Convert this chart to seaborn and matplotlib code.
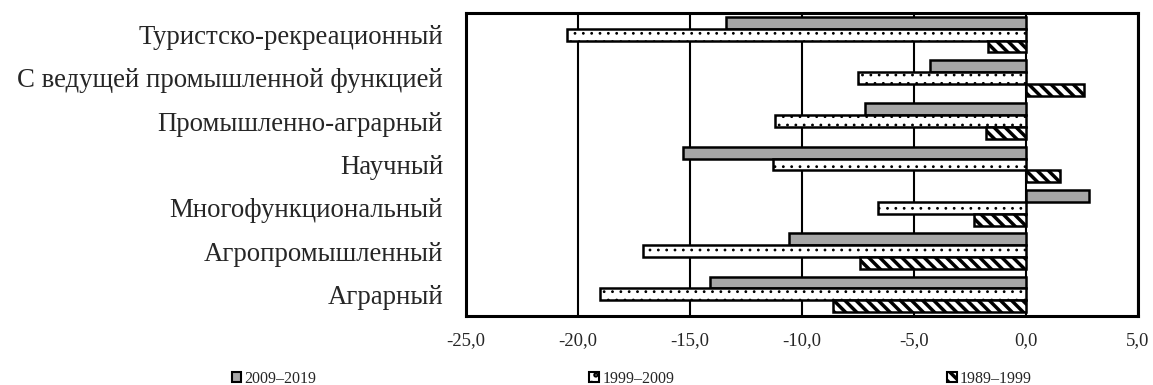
import matplotlib
matplotlib.use("Agg")
import matplotlib.pyplot as plt
import seaborn as sns
import pandas as pd
import numpy as np
from matplotlib.patches import Patch

categories = ["Туристско-рекреационный", "С ведущей промышленной функцией",
              "Промышленно-аграрный", "Научный", "Многофункциональный",
              "Агропромышленный", "Аграрный"]
periods = ["2009–2019", "1999–2009", "1989–1999"]
v_2009_2019 = [-13.4, -4.3, -7.2, -15.3, 2.8, -10.6, -14.1]
v_1999_2009 = [-20.5, -7.5, -11.2, -11.3, -6.6, -17.1, -19.0]
v_1989_1999 = [-1.7, 2.6, -1.8, 1.5, -2.3, -7.4, -8.6]
xticks = [-25, -20, -15, -10, -5, 0, 5]

df = pd.DataFrame({
    "cat": categories * 3,
    "period": [periods[0]] * 7 + [periods[1]] * 7 + [periods[2]] * 7,
    "value": v_2009_2019 + v_1999_2009 + v_1989_1999,
})

sns.set_theme(style="white")
plt.rcParams["font.family"] = ["Liberation Serif", "DejaVu Serif"]
plt.rcParams["hatch.linewidth"] = 2.5

fig = plt.figure(figsize=(11.53, 3.85), dpi=100)
ax = fig.add_axes([466 / 1153, 1 - 316 / 385, (1138 - 466) / 1153, (316 - 13) / 385])

face = {"2009–2019": "#a6a6a6", "1999–2009": "white", "1989–1999": "white"}
hatch = {"2009–2019": "", "1999–2009": "..", "1989–1999": "\\\\\\"}
hlw = {"2009–2019": 1.0, "1999–2009": 0.8, "1989–1999": 2.5}

sns.barplot(data=df, y="cat", x="value", hue="period", order=categories,
            hue_order=periods, orient="h", width=0.82, ax=ax,
            palette=[face[p] for p in periods], edgecolor="black",
            linewidth=1.8, legend=False, saturation=1)

def style_patch(patch, p):
    patch.set_facecolor(face[p])
    patch.set_hatch(hatch[p])
    patch.set_edgecolor("black")
    if hasattr(patch, "set_hatch_linewidth"):
        patch.set_hatch_linewidth(hlw[p])

for cont, p in zip(ax.containers, periods):
    for bar in cont:
        style_patch(bar, p)
        bar.set_zorder(3)

ax.set_xlim(-25, 5)
ax.set_xticks(xticks)
ax.set_xticklabels([f"{t:.1f}".replace(".", ",") for t in xticks], fontsize=13.5)
ax.grid(axis="x", color="black", linewidth=1.5, zorder=0)
ax.set_axisbelow(True)
ax.tick_params(axis="y", labelsize=19.3, length=0, pad=16.5)
ax.tick_params(axis="x", length=0, pad=11.5)
ax.set_xlabel("")
ax.set_ylabel("")
for s in ax.spines.values():
    s.set_visible(True)
    s.set_color("black")
    s.set_linewidth(2.2)

handles = []
for p in periods:
    h = Patch(linewidth=1.5)
    style_patch(h, p)
    handles.append(h)
fig.legend(handles, periods, loc="center", bbox_to_anchor=(0.548, 6 / 385), ncol=3,
           frameon=False, fontsize=11.5, columnspacing=17.1, handlelength=0.6,
           handleheight=0.6, handletextpad=0.2, borderaxespad=0, borderpad=0)

fig.savefig("out.png", dpi=100)
